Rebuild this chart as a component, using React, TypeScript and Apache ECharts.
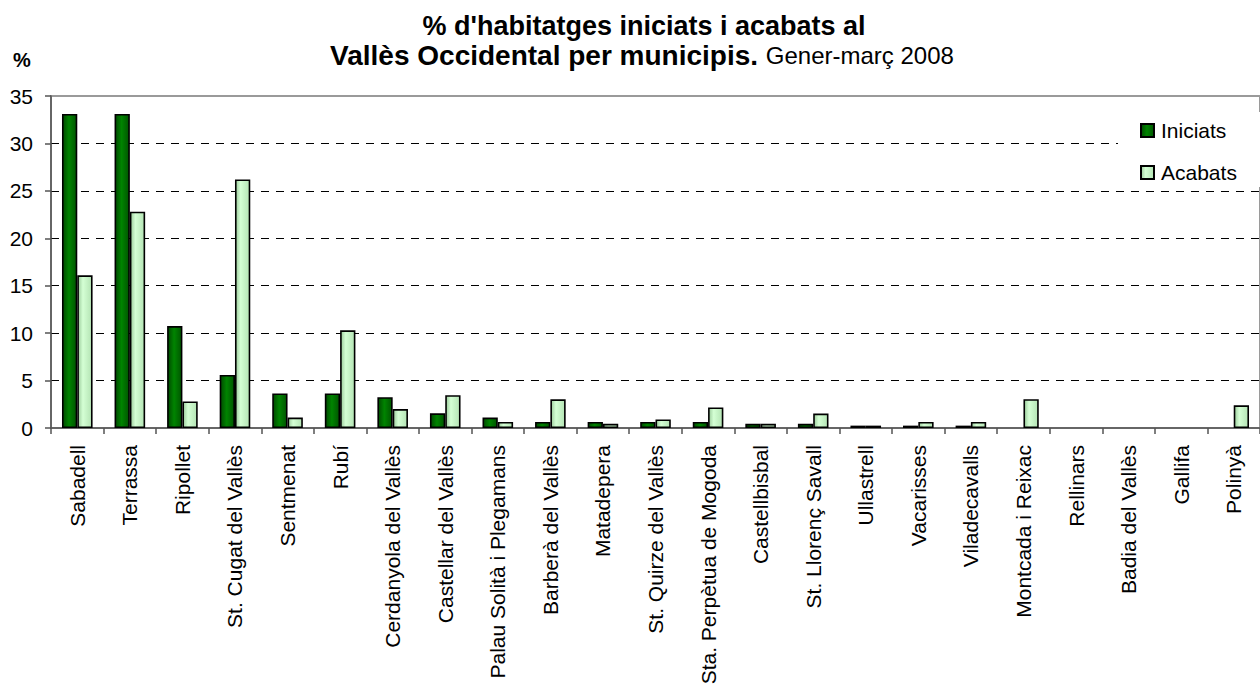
import React, { useEffect, useRef } from "react";
import * as echarts from "echarts";

const categories = [
  "Sabadell",
  "Terrassa",
  "Ripollet",
  "St. Cugat del Vallès",
  "Sentmenat",
  "Rubí",
  "Cerdanyola del Vallès",
  "Castellar del Vallès",
  "Palau Solità i Plegamans",
  "Barberà del Vallès",
  "Matadepera",
  "St. Quirze del Vallès",
  "Sta. Perpètua de Mogoda",
  "Castellbisbal",
  "St. Llorenç Savall",
  "Ullastrell",
  "Vacarisses",
  "Viladecavalls",
  "Montcada i Reixac",
  "Rellinars",
  "Badia del Vallès",
  "Gallifa",
  "Polinyà",
];

const iniciats = [
  33.1, 33.1, 10.75, 5.6, 3.65, 3.65, 3.25, 1.55, 1.1, 0.64, 0.64, 0.64, 0.64,
  0.44, 0.44, 0.25, 0.25, 0.25, 0, 0, 0, 0, 0,
];

const acabats = [
  16.1, 22.8, 2.8, 26.2, 1.1, 10.3, 2.0, 3.45, 0.64, 3.02, 0.44, 0.9, 2.16,
  0.44, 1.52, 0.25, 0.64, 0.64, 3.03, 0, 0, 0, 2.39,
];

const yTicks = { min: 0, max: 35, interval: 5 };

const titleLine1 = "% d'habitatges iniciats i acabats al";
const titleLine2Bold = "Vallès Occidental per municipis.";
const titleLine2Normal = "Gener-març 2008";
const yUnit = "%";

const FONT = "'Liberation Sans', Arial, sans-serif";

export default function App() {
  const ref = useRef<HTMLDivElement>(null);

  useEffect(() => {
    if (!ref.current) return;
    const chart = echarts.init(ref.current, undefined, { renderer: "svg" });

    const darkFill = new echarts.graphic.LinearGradient(0, 0, 1, 0, [
      { offset: 0, color: "#004a00" },
      { offset: 0.45, color: "#008400" },
      { offset: 1, color: "#005600" },
    ]);
    const lightFill = new echarts.graphic.LinearGradient(0, 0, 1, 0, [
      { offset: 0, color: "#9ccc9c" },
      { offset: 0.35, color: "#d4ffd4" },
      { offset: 1, color: "#b4e4b4" },
    ]);

    const catWidth = 52.9;
    const noZero = (arr: number[]) => arr.map((v) => (v === 0 ? null : v));

    chart.setOption({
      animation: false,
      backgroundColor: "#ffffff",
      textStyle: { fontFamily: FONT },
      grid: {
        left: 51,
        top: 96,
        height: 332,
        width: catWidth * categories.length,
        show: true,
        borderColor: "#9a9a9a",
        borderWidth: 2,
        backgroundColor: "transparent",
      },
      legend: {
        orient: "vertical",
        left: 1118,
        top: 112,
        padding: [8, 40, 4, 22],
        backgroundColor: "#ffffff",
        itemWidth: 13,
        itemHeight: 13,
        itemGap: 21,
        icon: "rect",
        textStyle: { fontSize: 21, color: "#000", fontFamily: FONT, padding: [0, 0, 0, 2] },
        data: ["Iniciats", "Acabats"],
      },
      graphic: [
        {
          type: "text",
          x: 644,
          y: 26,
          style: {
            text: titleLine1,
            font: `bold 27px ${FONT}`,
            fill: "#000",
            textAlign: "center",
            textVerticalAlign: "middle",
          },
        },
        {
          type: "text",
          x: 642,
          y: 55,
          style: {
            text: `{b|${titleLine2Bold}}{s| }{n|${titleLine2Normal}}`,
            textAlign: "center",
            textVerticalAlign: "middle",
            rich: {
              b: { font: `bold 28px ${FONT}`, fill: "#000" },
              s: { font: `28px ${FONT}`, fill: "#000" },
              n: { font: `24px ${FONT}`, fill: "#000" },
            },
          },
        },
        {
          type: "text",
          x: 22,
          y: 60,
          style: {
            text: yUnit,
            font: `bold 20px ${FONT}`,
            fill: "#000",
            textAlign: "center",
            textVerticalAlign: "middle",
          },
        },
      ],
      xAxis: {
        type: "category",
        data: categories,
        axisLine: { show: true, lineStyle: { color: "#555", width: 1.5 } },
        axisTick: { show: true, length: 6, alignWithLabel: false, lineStyle: { color: "#555", width: 1.5 } },
        axisLabel: {
          interval: 0,
          rotate: 90,
          margin: 17,
          fontSize: 21,
          color: "#000",
          fontFamily: FONT,
        },
        splitLine: { show: false },
      },
      yAxis: {
        type: "value",
        min: yTicks.min,
        max: yTicks.max,
        interval: yTicks.interval,
        axisLine: { show: true, lineStyle: { color: "#555", width: 1.5 } },
        axisTick: { show: true, length: 6, lineStyle: { color: "#555", width: 1.5 } },
        axisLabel: { fontSize: 21, color: "#000", margin: 18, fontFamily: FONT },
        splitLine: {
          show: true,
          showMinLine: false,
          showMaxLine: false,
          lineStyle: { color: "#000", width: 1, type: [8, 7] },
        },
      },
      series: [
        {
          name: "Iniciats",
          type: "bar",
          data: noZero(iniciats),
          barWidth: 15.3,
          barGap: "0%",
          itemStyle: { color: darkFill, borderColor: "#000", borderWidth: 1.6 },
        },
        {
          name: "Acabats",
          type: "bar",
          data: noZero(acabats),
          barWidth: 15.3,
          barGap: "0%",
          itemStyle: { color: lightFill, borderColor: "#000", borderWidth: 1.6 },
        },
      ],
    });

    return () => chart.dispose();
  }, []);

  return (
    <div
      ref={ref}
      style={{ position: "fixed", left: 0, top: 0, width: 1260, height: 689, background: "#fff" }}
    />
  );
}
